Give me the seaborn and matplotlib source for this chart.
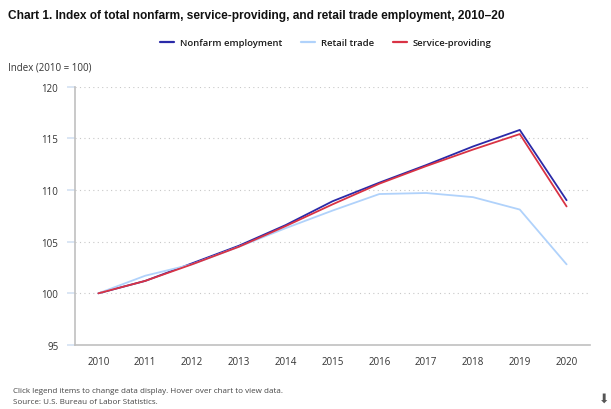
import matplotlib
matplotlib.use("Agg")
import matplotlib.pyplot as plt
import seaborn as sns
import pandas as pd

years = [2010, 2011, 2012, 2013, 2014, 2015, 2016, 2017, 2018, 2019, 2020]
nonfarm = [100.0, 101.2, 102.9, 104.6, 106.6, 108.9, 110.7, 112.4, 114.2, 115.8, 109.0]
retail = [100.0, 101.7, 102.8, 104.5, 106.3, 108.0, 109.6, 109.7, 109.3, 108.1, 102.8]
service = [100.0, 101.2, 102.8, 104.5, 106.5, 108.6, 110.6, 112.3, 113.9, 115.4, 108.4]
series_names = ["Nonfarm employment", "Retail trade", "Service-providing"]
y_ticks = [95, 100, 105, 110, 115, 120]

colors = {"Nonfarm employment": "#2a2aa8",
          "Retail trade": "#b0d2fb",
          "Service-providing": "#d93344"}

df = pd.DataFrame({
    "year": years * 3,
    "value": nonfarm + retail + service,
    "series": sum([[n] * len(years) for n in series_names], []),
})

sns.set_style("white")
plt.rcParams["font.family"] = ["Open Sans", "DejaVu Sans"]

fig = plt.figure(figsize=(6.11, 4.10), dpi=100)
ax = fig.add_axes([75 / 611, 1 - 346 / 410, (590 - 75) / 611, (346 - 87.5) / 410])

sns.lineplot(data=df, x="year", y="value", hue="series", hue_order=series_names,
             palette=colors, linewidth=1.3, ax=ax, legend=False)

ax.set_xlim(2009.5, 2020.5)
ax.set_ylim(95, 120)
ax.set_xticks(years)
ax.set_xticklabels([str(y) for y in years], fontsize=7, color="#333333")
ax.set_yticks(y_ticks)
ax.set_yticklabels([str(t) for t in y_ticks], fontsize=7, color="#333333")
ax.set_xlabel("")
ax.set_ylabel("")

for t in y_ticks[1:]:
    ax.axhline(t, color="#c8c8c8", linestyle=(0, (1, 3)), linewidth=0.8, zorder=0)

for side in ["top", "right"]:
    ax.spines[side].set_visible(False)
for side in ["left", "bottom"]:
    ax.spines[side].set_color("#c0c0c0")
    ax.spines[side].set_linewidth(1.2)

ax.tick_params(axis="y", which="major", length=6, width=1.2, color="#d4e2f2", pad=6, left=True)
ax.tick_params(axis="x", which="major", length=0, pad=8)

fig.text(8 / 611, 1 - 16 / 410,
         "Chart 1. Index of total nonfarm, service-providing, and retail trade employment, 2010\u201320",
         fontsize=8.6, fontweight="bold", family="Liberation Sans", color="#111111", va="center")

handles = [plt.Line2D([0], [0], color=colors[n], linewidth=1.6) for n in series_names]
leg = fig.legend(handles, series_names, loc="center", bbox_to_anchor=(326 / 611, 1 - 44 / 410),
                 ncol=3, frameon=False, fontsize=6.8, handlelength=1.5, handletextpad=0.6,
                 columnspacing=2.0)
for txt in leg.get_texts():
    txt.set_color("#1a1a1a")
    txt.set_fontweight("semibold")

fig.text(8 / 611, 1 - 68 / 410, "Index (2010 = 100)", fontsize=7, color="#333333", va="center")

fig.text(13 / 611, 1 - 392 / 410,
         "Click legend items to change data display. Hover over chart to view data.",
         fontsize=5.8, color="#444444", va="center")
fig.text(13 / 611, 1 - 403 / 410, "Source: U.S. Bureau of Labor Statistics.",
         fontsize=5.8, color="#444444", va="center")

fig.text(604 / 611, 1 - 399 / 410, "\u2b07", fontsize=9, color="#555555",
         ha="center", va="center", family="DejaVu Sans")

fig.savefig("out.png", dpi=100)
